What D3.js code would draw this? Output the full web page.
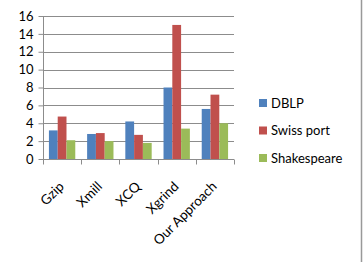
<!DOCTYPE html>
<html>
<head>
<meta charset="utf-8">
<script src="https://cdn.jsdelivr.net/npm/d3@7"></script>
<style>
  body { margin: 0; background: #fff; }
  svg text { font-family: Lato, "Open Sans", sans-serif; fill: #000; }
</style>
</head>
<body>
<div id="container"></div>
<script>
var categories = ["Gzip", "Xmill", "XCQ", "Xgrind", "Our Approach"];
var seriesNames = ["DBLP", "Swiss port", "Shakespeare"];
var dblp = [3.2, 2.8, 4.2, 8.0, 5.6];
var swissPort = [4.75, 2.9, 2.7, 15.0, 7.2];
var shakespeare = [2.1, 2.0, 1.8, 3.4, 4.0];
var yTicks = [0, 2, 4, 6, 8, 10, 12, 14, 16];
var colors = ["#4F81BD", "#C0504D", "#9BBB59"];

var series = [dblp, swissPort, shakespeare];

var margin = {top: 16, right: 130, bottom: 103, left: 43},
    width = 364 - margin.left - margin.right,
    height = 262 - margin.top - margin.bottom;

var svg = d3.select("#container").append("svg")
    .attr("width", 364)
    .attr("height", 262);

// right edge frame line
svg.append("line")
    .attr("x1", 361.5).attr("x2", 361.5)
    .attr("y1", 0).attr("y2", 262)
    .attr("stroke", "#999").attr("stroke-width", 1.5);

var g = svg.append("g")
    .attr("transform", "translate(" + margin.left + "," + margin.top + ")");

var x0 = d3.scaleBand().domain(categories).range([0, width]).paddingInner(0.31).paddingOuter(0.155);
var xBand = d3.scaleBand().domain(categories).range([0, width]);
var x1 = d3.scaleBand().domain(d3.range(series.length)).range([0, x0.bandwidth()]);
var y = d3.scaleLinear().domain([0, 16]).range([height, 0]);

// gridlines
g.selectAll(".grid")
  .data(yTicks)
  .enter().append("line")
    .attr("x1", 0).attr("x2", width)
    .attr("y1", function(d) { return Math.round(y(d)) + 0.5; })
    .attr("y2", function(d) { return Math.round(y(d)) + 0.5; })
    .attr("stroke", "#8c8c8c");

// y axis
var yAxis = g.append("g")
    .attr("transform", "translate(0.5,0)")
    .call(d3.axisLeft(y).tickValues(yTicks).tickSize(5).tickPadding(5));
yAxis.selectAll("line").attr("stroke", "#8c8c8c");
yAxis.select(".domain").attr("stroke", "#8c8c8c").attr("d", "M0," + height + "V0");
yAxis.selectAll("text").style("font-size", "13px").style("font-family", "Lato, sans-serif");

// bars
categories.forEach(function(c, i) {
  var grp = g.append("g").attr("transform", "translate(" + x0(c) + ",0)");
  grp.selectAll("rect")
    .data(series.map(function(s, k) { return {k: k, v: s[i]}; }))
    .enter().append("rect")
      .attr("x", function(d) { return x1(d.k); })
      .attr("y", function(d) { return y(d.v); })
      .attr("width", x1.bandwidth())
      .attr("height", function(d) { return height - y(d.v); })
      .attr("fill", function(d) { return colors[d.k]; });
});

// x axis
var xAxis = g.append("g")
    .attr("transform", "translate(0," + (height + 0.5) + ")");
xAxis.append("line")
    .attr("x1", 0).attr("x2", width)
    .attr("stroke", "#8c8c8c");
xAxis.selectAll(".tk")
  .data(d3.range(categories.length + 1))
  .enter().append("line")
    .attr("x1", function(d) { return Math.round(d * xBand.step()) + 0.5; })
    .attr("x2", function(d) { return Math.round(d * xBand.step()) + 0.5; })
    .attr("y1", 0).attr("y2", 5)
    .attr("stroke", "#8c8c8c");
xAxis.selectAll(".lbl")
  .data(categories)
  .enter().append("text")
    .attr("transform", function(d) {
      return "translate(" + (xBand(d) + xBand.bandwidth() / 2 - 4) + ",21) rotate(-45)";
    })
    .attr("text-anchor", "end")
    .attr("dy", "0.71em")
    .style("font-size", "13.5px")
    .text(function(d) { return d; });

// legend
var legend = svg.append("g").attr("transform", "translate(259,103)");
seriesNames.forEach(function(n, i) {
  var item = legend.append("g").attr("transform", "translate(0," + (i * 27.5) + ")");
  item.append("rect")
    .attr("x", 0).attr("y", -4)
    .attr("width", 8).attr("height", 8)
    .attr("fill", colors[i]);
  item.append("text")
    .attr("x", 12).attr("y", 0)
    .attr("dy", "0.35em")
    .style("font-size", "13px")
    .text(n);
});
</script>
</body>
</html>
